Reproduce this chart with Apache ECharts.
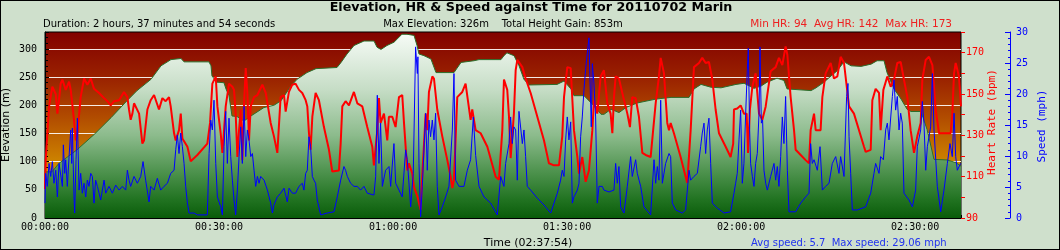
<!DOCTYPE html>
<html><head><meta charset="utf-8">
<script src="https://cdn.jsdelivr.net/npm/echarts@6/dist/echarts.min.js"></script>
<style>
html,body{margin:0;padding:0;background:#cfe0cc;}
#wrap{position:relative;width:1060px;height:250px;}
#c{position:absolute;left:0;top:0;width:1060px;height:250px;}
#frame{position:absolute;left:0;top:0;width:1060px;height:250px;box-sizing:border-box;border:1px solid #000;pointer-events:none;}
</style></head><body>
<div id="wrap"><div id="c"></div><div id="frame"></div></div>
<script>
// ---- data (time in seconds) ----
const totalSeconds = 9474;
const elevationSamples = [[0,82],[72,82],[145,97],[331,121],[507,148],[683,178],[848,208],[952,226],[1096,246],[1200,270],[1303,281],[1407,283],[1438,277],[1696,277],[1717,270],[1727,252],[1779,241],[1851,240],[1872,229],[1903,217],[1934,181],[1986,180],[2058,172],[2130,181],[2265,196],[2368,200],[2441,208],[2544,234],[2606,246],[2710,258],[2803,265],[3020,267],[3062,276],[3124,291],[3196,306],[3299,314],[3403,314],[3434,303],[3475,299],[3537,306],[3610,312],[3692,326],[3744,326],[3817,324],[3848,306],[3868,291],[3920,288],[3992,282],[4044,258],[4230,258],[4303,276],[4437,279],[4489,281],[4716,281],[4747,288],[4778,293],[4851,288],[4903,270],[4954,246],[5006,236],[5296,237],[5368,243],[5440,229],[5471,217],[5575,217],[5678,199],[5751,184],[5782,184],[5854,193],[5937,187],[6009,196],[6123,204],[6320,211],[6475,214],[6661,214],[6713,229],[6785,237],[6888,232],[6992,231],[7147,237],[7230,239],[7333,230],[7406,234],[7468,241],[7571,248],[7643,244],[7675,229],[7923,226],[7975,231],[8057,241],[8130,252],[8192,261],[8264,277],[8337,270],[8440,269],[8544,273],[8606,279],[8678,279],[8709,258],[8781,229],[8854,211],[8916,193],[8957,189],[9060,189],[9123,157],[9195,104],[9330,103],[9423,98],[9474,92]];

const heartRateSamples = [[0,104],[7,118],[42,144],[76,153.5],[111,150],[128,140.5],[145,147],[162,155],[180,157],[214,152],[249,156],[266,152],[300,137.5],[318,127.5],[335,131],[369,148.5],[404,157.5],[438,154.5],[473,157.5],[507,152.5],[559,150.5],[611,148],[645,146.5],[680,144.5],[714,146.5],[766,147],[817,151],[852,148.5],[869,142.5],[886,137.5],[904,140.5],[921,145.5],[973,140.5],[1007,126],[1024,127.5],[1059,142.5],[1093,147],[1128,149.5],[1179,142.5],[1214,148],[1248,146.5],[1283,148.5],[1300,144],[1335,131],[1352,127.5],[1386,132.5],[1404,140.5],[1421,128.5],[1473,124.5],[1507,117.5],[1576,120.5],[1679,126],[1707,136],[1731,155],[1766,158.5],[1783,144],[1817,131],[1835,121.5],[1852,132.5],[1869,144],[1903,155],[1938,153.5],[1955,152],[1972,140.5],[1990,119.5],[2007,132.5],[2024,142.5],[2041,118],[2059,145.5],[2076,162.5],[2093,150.5],[2110,127.5],[2128,144],[2162,148.5],[2197,149.5],[2248,154.5],[2283,150.5],[2334,136],
[2368,129.5],[2403,121.5],[2437,148.5],[2472,149.5],[2489,141.5],[2523,151],[2558,154.5],[2592,155],[2627,152],[2661,150.5],[2696,147],[2713,144],[2730,131],[2747,123],[2765,139],[2799,150.5],[2833,147],[2885,134],[2937,123],[2971,112.5],[3040,113],[3058,126],[3075,144],[3109,146.5],[3144,144.5],[3195,151],[3230,145.5],[3282,144],[3333,134],[3385,124.5],[3402,115.5],[3437,132.5],[3454,148],[3471,136],[3506,140.5],[3540,127.5],[3557,139],[3592,139],[3626,134],[3661,148.5],[3695,149.5],[3713,136],[3747,113],[3764,116.5],[3799,111.5],[3816,105],[3851,100.5],[3885,94],[3902,110],[3937,140.5],[3954,132.5],[3971,151],[4006,158.5],[4023,157.5],[4057,142.5],[4109,129.5],[4161,118],[4195,110],[4213,104.5],[4230,108.5],[4264,148.5],[4316,151],[4350,155],[4402,137.5],[4419,142.5],[4454,132.5],[4506,131],[4575,124.5],[4661,110],[4695,108.5],[4730,132.5],
[4747,157],[4781,152],[4799,139],[4816,119],[4850,140.5],[4868,161.5],[4885,166.5],[4937,163],[4971,157.5],[5023,150.5],[5092,139],[5161,127.5],[5212,116.5],[5264,115.5],[5316,115.5],[5350,129.5],[5368,148.5],[5402,163],[5437,162.5],[5471,132.5],[5506,119.5],[5523,111.5],[5557,119.5],[5592,107.5],[5626,113],[5661,132.5],[5678,147],[5712,140.5],[5747,158.5],[5781,161.5],[5816,145.5],[5850,140.5],[5868,131],[5885,148.5],[5902,158.5],[5936,157.5],[5971,150.5],[6023,140.5],[6050,134],[6074,148.5],[6109,148],[6143,139],[6178,121.5],[6212,120.5],[6264,119.5],[6316,145.5],[6350,158.5],[6368,167.5],[6402,160],[6436,136],[6454,132.5],[6471,136],[6505,131],[6574,119.5],[6626,110],[6643,107],[6678,132.5],[6712,163],[6764,165],[6798,167.5],[6833,165],[6867,165.5],[6902,157],[6936,142.5],[6971,131],[7040,124.5],[7091,119.5],[7118,126],
[7126,142.5],[7160,143],[7195,144.5],[7229,140.5],[7257,140.5],[7271,121.5],[7291,142.5],[7316,153.5],[7350,160],[7385,140.5],[7419,137.5],[7454,144],[7505,161],[7557,163],[7591,167.5],[7626,164],[7660,173],[7678,169],[7712,148.5],[7747,132.5],[7764,123],[7816,120.5],[7867,118],[7902,116.5],[7919,132.5],[7954,140.5],[7971,132.5],[8022,132.5],[8040,148.5],[8074,160],[8126,165],[8160,157.5],[8195,158.5],[8229,168],[8264,165],[8316,144],[8367,140.5],[8471,124.5],[8488,122],[8540,123],[8557,147],[8591,152.5],[8626,150.5],[8643,132.5],[8671,152],[8712,158.5],[8747,153.5],[8781,157],[8815,165],[8850,165.5],[8884,157],[8919,148.5],[8953,132.5],[8988,121.5],[9022,129.5],[9057,136],[9074,157],[9109,166.5],[9143,168],[9178,164],[9212,142.5],[9247,131],[9367,131],[9384,140.5],[9402,160],[9419,165],[9453,158.5],[9474,144]];

const speedSamples = [[0,2.4],[7,7.2],[24,5.1],[42,8.8],[59,6.7],[76,9.1],[93,5.6],[111,7.7],[128,3.4],[145,8.8],[162,9.1],[180,5.1],[190,11.8],[204,7.2],[214,9.4],[231,5.1],[249,9.9],[266,14.2],[276,8.8],[283,14.5],[300,3.4],[307,0.8],[321,9.4],[335,16.1],[352,4.5],[369,7.2],[386,4.0],[404,5.6],[421,3.4],[438,6.1],[455,5.1],[473,7.2],[490,6.7],[507,2.4],[524,6.1],[542,5.1],[559,4.0],[576,2.9],[611,6.1],[628,4.0],[662,5.1],[697,4.0],[731,5.3],[766,4.5],[800,5.1],[835,4.5],[852,7.7],[869,6.1],[886,5.1],[921,6.7],[955,5.6],[990,6.7],[1014,9.1],[1041,6.1],[1076,2.6],[1093,5.1],[1128,4.5],[1162,6.4],[1197,4.5],[1231,5.1],[1266,5.6],[1300,7.2],[1335,7.7],[1352,11.0],[1369,13.4],[1386,10.4],[1404,13.7],[1421,11.5],[1438,8.8],[1455,5.1],[1473,2.4],[1490,0.8],[1541,0.8],[1576,0.5],[1679,0.5],[1697,10.4],[1714,15.8],[1731,14.2],[1748,19.0],[1766,8.8],[1783,3.4],[1817,1.8],[1835,0.5],[1852,11.5],[1869,17.2],[1886,8.8],[1903,16.1],[1921,9.9],[1938,6.1],[1955,2.9],[1972,0.5],[1990,4.5],[2007,9.9],[2024,14.7],[2041,8.8],[2059,18.0],[2076,9.9],[2093,14.2],[2110,12.6],[2128,9.9],[2145,10.4],[2162,7.7],[2179,5.1],[2197,6.7],[2214,5.6],[2231,6.7],[2266,6.1],[2300,4.5],[2334,2.4],[2352,0.8],
[2368,2.1],[2403,3.4],[2437,4.0],[2472,4.8],[2506,2.6],[2524,4.8],[2558,4.0],[2592,4.0],[2627,5.1],[2661,5.6],[2678,4.5],[2696,7.2],[2713,7.7],[2730,13.1],[2747,11.5],[2765,6.7],[2782,6.1],[2799,5.6],[2816,2.9],[2851,0.5],[2920,0.8],[2989,1.0],[3023,3.4],[3058,6.1],[3092,8.3],[3109,7.7],[3127,6.7],[3161,5.6],[3196,5.1],[3230,5.1],[3264,4.5],[3299,5.1],[3333,4.0],[3402,3.7],[3420,6.7],[3437,19.8],[3454,8.8],[3471,15.3],[3489,5.1],[3523,7.7],[3558,8.3],[3575,5.1],[3609,12.0],[3627,5.6],[3661,4.5],[3695,3.4],[3730,11.0],[3747,9.4],[3782,1.8],[3809,7.2],[3833,27.6],[3851,23.3],[3857,26.0],[3868,8.8],[3885,0.2],[3902,5.1],[3937,16.9],[3954,7.7],[3971,15.8],[3988,13.1],[4006,15.8],[4023,12.6],[4040,16.9],[4057,5.1],[4075,0.5],[4109,1.8],[4144,3.4],[4178,5.1],[4213,14.2],[4230,23.3],[4247,6.1],[4282,5.1],[4333,5.1],[4368,7.7],[4402,9.4],[4430,16.3],[4454,10.1],[4489,5.1],[4540,3.4],[4609,2.4],[4678,0.5],[4696,0.2],[4713,6.7],
[4747,5.1],[4764,8.8],[4799,12.0],[4816,16.3],[4833,12.0],[4850,14.7],[4868,14.2],[4885,6.1],[4902,17.2],[4919,16.9],[4937,12.0],[4954,14.2],[4971,9.9],[4988,5.1],[5023,4.5],[5092,3.2],[5161,2.1],[5230,0.8],[5299,4.0],[5333,6.1],[5350,7.7],[5368,6.7],[5385,12.6],[5402,16.3],[5419,12.6],[5437,15.5],[5454,2.4],[5471,3.4],[5506,4.5],[5523,5.6],[5540,13.1],[5557,16.3],[5574,20.6],[5592,24.1],[5609,26.6],[5626,29.06],[5636,22.8],[5650,14.7],[5661,24.9],[5678,21.7],[5695,16.3],[5712,2.4],[5730,5.1],[5764,5.1],[5781,4.5],[5833,4.2],[5885,4.5],[5902,8.8],[5919,5.6],[5936,8.3],[5954,1.8],[5988,0.8],[6023,5.1],[6057,9.9],[6074,6.7],[6109,9.4],[6126,7.2],[6161,5.1],[6195,1.8],[6264,0.5],[6299,9.4],[6316,5.6],[6333,8.3],[6350,6.1],[6368,19.0],[6385,5.6],[6419,8.8],[6454,10.4],[6471,9.9],[6488,2.4],[6523,1.3],[6592,0.8],[6626,1.3],[6661,7.7],[6678,6.1],[6712,6.7],[6747,7.2],[6781,11.5],[6798,13.7],[6816,15.3],[6833,10.4],[6850,14.2],[6867,16.1],[6885,8.8],[6902,2.4],[6954,1.6],[7023,0.8],[7091,1.0],
[7126,4.0],[7143,5.6],[7160,7.2],[7178,12.6],[7195,17.4],[7212,5.6],[7229,8.8],[7247,16.9],[7264,23.9],[7274,27.4],[7288,14.2],[7298,8.8],[7316,6.7],[7333,5.1],[7350,8.8],[7367,10.4],[7385,16.9],[7395,27.6],[7409,15.3],[7422,15.8],[7436,7.7],[7454,5.6],[7471,4.5],[7505,6.7],[7540,8.8],[7557,6.1],[7574,8.3],[7591,5.1],[7609,9.9],[7626,16.3],[7643,12.0],[7660,19.6],[7678,7.7],[7695,1.0],[7764,1.0],[7816,2.4],[7867,3.4],[7902,4.0],[7919,12.0],[7936,8.8],[7954,9.4],[7988,7.7],[8016,11.5],[8040,4.5],[8074,5.1],[8109,5.6],[8143,8.8],[8178,9.9],[8212,7.2],[8229,9.9],[8264,6.7],[8291,19.6],[8305,21.7],[8316,13.1],[8333,7.2],[8350,1.3],[8402,1.3],[8488,1.8],[8540,4.0],[8574,7.2],[8591,8.8],[8626,7.2],[8643,9.9],[8671,9.4],[8695,14.2],[8712,15.3],[8729,12.6],[8764,19.6],[8781,22.3],[8798,17.4],[8815,19.6],[8833,14.2],[8850,16.9],[8867,15.3],[8884,4.0],[8936,2.9],[8971,1.8],[9005,4.5],[9022,11.5],[9057,14.2],[9074,18.8],[9091,15.3],[9109,7.7],[9126,11.5],[9160,14.7],[9178,23.3],[9195,14.2],[9229,5.1],[9264,1.0],[9298,4.5],[9333,8.8],[9360,12.0],[9384,9.9],[9402,16.9],[9419,9.9],[9436,7.7],[9470,8.8]];

const titleText = 'Elevation, HR & Speed against Time for 20110702 Marin';
const durationText = 'Duration: 2 hours, 37 minutes and 54 seconds';
const elevationText = 'Max Elevation: 326m    Total Height Gain: 853m';
const hrText = 'Min HR: 94  Avg HR: 142  Max HR: 173';
const timeAxisName = 'Time (02:37:54)';
const speedText = 'Avg speed: 5.7  Max speed: 29.06 mph';
const elevAxisName = 'Elevation (m)';
const hrAxisName = 'Heart Rate (bpm)';
const speedAxisName = 'Speed (mph)';

// ---- chart ----
const pad = n => (n < 10 ? '0' : '') + n;
const hms = s => pad(Math.floor(s / 3600)) + ':' + pad(Math.floor(s % 3600 / 60)) + ':' + pad(Math.round(s % 60));
const mono = '"DejaVu Sans Mono", monospace';
const sans = '"DejaVu Sans", sans-serif';
const G = echarts.graphic;
const txt = (x, y, text, font, fill, align, rot) => ({
  type: 'text', x: x, y: y, rotation: rot || 0,
  style: {text: text, font: font, fill: fill, align: align, verticalAlign: 'middle', textAlign: align, textVerticalAlign: 'middle'}
});

const chart = echarts.init(document.getElementById('c'), null, {renderer: 'canvas'});
chart.setOption({
  animation: false,
  backgroundColor: '#cfe0cc',
  grid: {
    left: 45, right: 99, top: 32, bottom: 32, show: true,
    borderColor: '#000', borderWidth: 1,
    backgroundColor: new G.LinearGradient(0, 0, 0, 1, [
      {offset: 0, color: '#820000'},
      {offset: 0.25, color: '#9a2200'},
      {offset: 0.45, color: '#b04a00'},
      {offset: 0.65, color: '#c87800'},
      {offset: 0.82, color: '#d8a200'},
      {offset: 1, color: '#dcb000'}
    ])
  },
  xAxis: {
    type: 'value', min: 0, max: totalSeconds, interval: 300,
    axisLine: {lineStyle: {color: '#000', width: 1}},
    axisTick: {inside: true, length: 3, lineStyle: {color: '#000'}},
    splitLine: {show: false},
    axisLabel: {
      color: '#000', fontFamily: mono, fontSize: 10, margin: 4,
      formatter: v => (v % 1800 === 0 ? hms(v) : '')
    }
  },
  yAxis: [
    {
      type: 'value', min: 0, max: 330, interval: 50, position: 'left',
      axisLine: {show: true, lineStyle: {color: '#000'}},
      axisTick: {show: true, inside: true, length: 4, lineStyle: {color: '#000'}},
      minorTick: {show: true, splitNumber: 5, length: 3, lineStyle: {color: '#000'}},
      splitLine: {show: true, showMinLine: false, showMaxLine: false, lineStyle: {color: 'rgba(255,255,255,0.9)', width: 1}},
      axisLabel: {color: '#000', fontFamily: mono, fontSize: 10, margin: 8, showMaxLabel: false,
        formatter: v => (v % 50 === 0 ? String(v) : '')}
    },
    {
      type: 'value', min: 90, max: 180, interval: 10, position: 'right',
      axisLine: {show: false},
      axisTick: {show: true, inside: false, length: 4, lineStyle: {color: '#ff0000'}},
      splitLine: {show: false},
      axisLabel: {color: '#ff0000', fontFamily: mono, fontSize: 10, margin: 5,
        formatter: v => ((v - 90) % 20 === 0 && v < 180 ? String(v) : '')}
    },
    {
      type: 'value', min: 0, max: 30, interval: 5, position: 'right', offset: 49,
      axisLine: {show: true, lineStyle: {color: '#0000ff'}},
      axisTick: {show: true, inside: true, length: 5, lineStyle: {color: '#0000ff'}},
      minorTick: {show: true, splitNumber: 5, length: 2, lineStyle: {color: '#0000ff'}},
      splitLine: {show: false},
      axisLabel: {color: '#0000ff', fontFamily: mono, fontSize: 10, margin: 6}
    }
  ],
  series: [
    {
      type: 'line', yAxisIndex: 0, data: elevationSamples, showSymbol: false, z: 1,
      lineStyle: {color: '#2b6e2b', width: 1},
      areaStyle: {opacity: 1, color: new G.LinearGradient(0, 0, 0, 1, [
        {offset: 0, color: '#f6fbf6'},
        {offset: 0.3, color: '#c6ddc6'},
        {offset: 0.55, color: '#8cbb8c'},
        {offset: 0.75, color: '#4d924d'},
        {offset: 0.9, color: '#217321'},
        {offset: 1, color: '#0a5c0a'}
      ])}
    },
    {
      type: 'line', yAxisIndex: 1, data: heartRateSamples, showSymbol: false, z: 2,
      lineStyle: {color: '#ff0000', width: 2}
    },
    {
      type: 'line', yAxisIndex: 2, data: speedSamples, showSymbol: false, z: 3,
      lineStyle: {color: '#0000ff', width: 1}
    }
  ],
  graphic: [
    txt(531, 8, titleText, 'bold 12.7px ' + sans, '#000', 'center'),
    txt(43, 24, durationText, '10px ' + sans, '#000', 'left'),
    txt(503, 24, elevationText, '10px ' + sans, '#000', 'center'),
    txt(952, 24, hrText, '10.5px ' + sans, '#ee2020', 'right'),
    txt(528, 243, timeAxisName, '11px ' + sans, '#000', 'center'),
    txt(751, 243, speedText, '10px ' + sans, '#2233ee', 'left'),
    txt(6, 125, elevAxisName, '11px ' + sans, '#000', 'center', Math.PI / 2),
    txt(992, 122, hrAxisName, '11px ' + mono, '#ff0000', 'center', Math.PI / 2),
    txt(1042, 126, speedAxisName, '11px ' + mono, '#0000ff', 'center', Math.PI / 2)
  ]
});
</script>
</body></html>
